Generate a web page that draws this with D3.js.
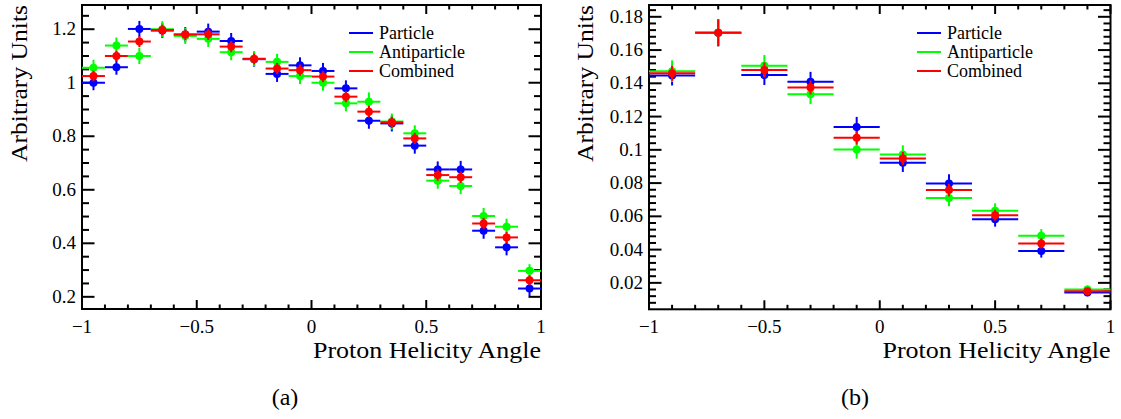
<!DOCTYPE html>
<html>
<head>
<meta charset="utf-8">
<script src="https://cdn.jsdelivr.net/npm/d3@7"></script>
<style>
  html, body { margin: 0; padding: 0; background: #fff; }
</style>
</head>
<body>
<svg id="chart" width="1121" height="419"></svg>
<script>
// ---- Panel (a): 20 bins of width 0.1 ----
const binsA = d3.range(20).map(i => -0.95 + 0.1 * i);
const particleA     = [1.000, 1.058, 1.201, 1.195, 1.180, 1.191, 1.156, 1.088, 1.033, 1.065, 1.044, 0.979, 0.858, 0.848, 0.765, 0.676, 0.676, 0.447, 0.385, 0.231];
const antiparticleA = [1.056, 1.139, 1.100, 1.200, 1.175, 1.164, 1.114, 1.090, 1.078, 1.025, 1.000, 0.923, 0.929, 0.855, 0.811, 0.634, 0.614, 0.502, 0.462, 0.297];
const combinedA     = [1.025, 1.100, 1.154, 1.197, 1.180, 1.181, 1.135, 1.089, 1.053, 1.047, 1.023, 0.948, 0.892, 0.852, 0.792, 0.655, 0.647, 0.474, 0.422, 0.262];
const particleErrA     = [0.028, 0.028, 0.030, 0.028, 0.028, 0.030, 0.030, 0.028, 0.030, 0.030, 0.030, 0.030, 0.030, 0.030, 0.030, 0.030, 0.032, 0.030, 0.030, 0.028];
const antiparticleErrA = [0.030, 0.030, 0.030, 0.030, 0.030, 0.030, 0.030, 0.028, 0.030, 0.030, 0.030, 0.030, 0.035, 0.030, 0.030, 0.030, 0.030, 0.030, 0.030, 0.025];
const combinedErrA     = [0.020, 0.020, 0.021, 0.020, 0.020, 0.021, 0.021, 0.020, 0.021, 0.021, 0.021, 0.021, 0.022, 0.021, 0.021, 0.021, 0.022, 0.021, 0.021, 0.019];

// ---- Panel (b): 10 bins of width 0.2 ----
const binsB = d3.range(10).map(i => -0.9 + 0.2 * i);
const particleB     = [0.1447, 0.1704, 0.1450, 0.1409, 0.1138, 0.0922, 0.0798, 0.0583, 0.0392, 0.0142];
const antiparticleB = [0.1473, 0.1704, 0.1505, 0.1335, 0.1002, 0.0972, 0.0711, 0.0633, 0.0483, 0.0160];
const combinedB     = [0.1460, 0.1704, 0.1480, 0.1375, 0.1072, 0.0948, 0.0758, 0.0607, 0.0437, 0.0150];
const particleErrB     = [0.0060, 0.0081, 0.0060, 0.0060, 0.0060, 0.0055, 0.0055, 0.0045, 0.0040, 0.0022];
const antiparticleErrB = [0.0065, 0.0081, 0.0065, 0.0060, 0.0055, 0.0055, 0.0050, 0.0045, 0.0040, 0.0025];
const combinedErrB     = [0.0045, 0.0081, 0.0045, 0.0042, 0.0040, 0.0040, 0.0038, 0.0033, 0.0030, 0.0017];

const seriesNames  = ["Particle", "Antiparticle", "Combined"];
const seriesColors = ["#0000ff", "#00ff00", "#ff0000"];

const xTickLabels = ["\u22121", "\u22120.5", "0", "0.5", "1"];
const yTicksA = [0.2, 0.4, 0.6, 0.8, 1.0, 1.2];
const yTickLabelsA = ["0.2", "0.4", "0.6", "0.8", "1", "1.2"];
const yTicksB = [0.02, 0.04, 0.06, 0.08, 0.10, 0.12, 0.14, 0.16, 0.18];
const yTickLabelsB = ["0.02", "0.04", "0.06", "0.08", "0.1", "0.12", "0.14", "0.16", "0.18"];

const xTitle = "Proton Helicity Angle";
const yTitle = "Arbitrary Units";

const svg = d3.select("#chart");

function drawPanel(cfg) {
  const x = d3.scaleLinear().domain([-1, 1]).range([cfg.left, cfg.right]);
  const y = d3.scaleLinear().domain(cfg.yDomain).range([cfg.bottom, cfg.top]);
  const g = svg.append("g");

  // ticks (inside the frame, on all four sides)
  const xMajor = [-1, -0.5, 0, 0.5, 1];
  const xMinor = d3.range(-10, 11).map(i => i / 10).filter(v => !xMajor.some(m => Math.abs(m - v) < 1e-9));
  const yMinor = d3.range(Math.ceil(cfg.yDomain[0] / cfg.yMinorStep - 1e-9), Math.floor(cfg.yDomain[1] / cfg.yMinorStep + 1e-9) + 1)
    .map(i => i * cfg.yMinorStep)
    .filter(v => !cfg.yTicks.some(m => Math.abs(m - v) < 1e-9));

  const tk = g.append("g").attr("stroke", "#000").attr("stroke-width", 2);
  const xMajLen = 9, xMinLen = 4.5, yMajLen = 12.5, yMinLen = 7;
  xMajor.forEach(v => {
    tk.append("line").attr("x1", x(v)).attr("x2", x(v)).attr("y1", cfg.bottom).attr("y2", cfg.bottom - xMajLen);
    tk.append("line").attr("x1", x(v)).attr("x2", x(v)).attr("y1", cfg.top).attr("y2", cfg.top + xMajLen);
  });
  xMinor.forEach(v => {
    tk.append("line").attr("x1", x(v)).attr("x2", x(v)).attr("y1", cfg.bottom).attr("y2", cfg.bottom - xMinLen);
    tk.append("line").attr("x1", x(v)).attr("x2", x(v)).attr("y1", cfg.top).attr("y2", cfg.top + xMinLen);
  });
  cfg.yTicks.forEach(v => {
    tk.append("line").attr("y1", y(v)).attr("y2", y(v)).attr("x1", cfg.left).attr("x2", cfg.left + yMajLen);
    tk.append("line").attr("y1", y(v)).attr("y2", y(v)).attr("x1", cfg.right).attr("x2", cfg.right - yMajLen);
  });
  yMinor.forEach(v => {
    tk.append("line").attr("y1", y(v)).attr("y2", y(v)).attr("x1", cfg.left).attr("x2", cfg.left + yMinLen);
    tk.append("line").attr("y1", y(v)).attr("y2", y(v)).attr("x1", cfg.right).attr("x2", cfg.right - yMinLen);
  });

  // frame
  g.append("rect")
    .attr("x", cfg.left).attr("y", cfg.top)
    .attr("width", cfg.right - cfg.left).attr("height", cfg.bottom - cfg.top)
    .attr("fill", "none").attr("stroke", "#000").attr("stroke-width", 2);

  // tick labels
  xMajor.forEach((v, i) => {
    g.append("text").attr("x", x(v)).attr("y", cfg.bottom + 24)
      .attr("text-anchor", "middle").attr("font-size", 19).text(xTickLabels[i]);
  });
  cfg.yTicks.forEach((v, i) => {
    g.append("text").attr("x", cfg.left - 6).attr("y", y(v) + 6)
      .attr("text-anchor", "end").attr("font-size", 19).text(cfg.yTickLabels[i]);
  });

  // axis titles (slightly wide serif face)
  g.append("text").attr("x", cfg.right).attr("y", 358)
    .attr("text-anchor", "end").attr("font-size", 24)
    .attr("textLength", 228).attr("lengthAdjust", "spacingAndGlyphs").text(xTitle);
  g.append("text")
    .attr("transform", `translate(${cfg.yTitleX},${cfg.top}) rotate(-90)`)
    .attr("text-anchor", "end").attr("font-size", 24)
    .attr("textLength", 157).attr("lengthAdjust", "spacingAndGlyphs").text(yTitle);

  // data series: horizontal bin-width bars, vertical error bars, markers
  const half = cfg.binWidth / 2;
  cfg.series.forEach((s, si) => {
    const sg = g.append("g").attr("stroke", seriesColors[si]).attr("fill", seriesColors[si]);
    cfg.bins.forEach((c, i) => {
      const v = s.values[i], e = s.errors[i];
      sg.append("line").attr("x1", x(c - half)).attr("x2", x(c + half))
        .attr("y1", y(v)).attr("y2", y(v)).attr("stroke-width", 2);
      sg.append("line").attr("x1", x(c)).attr("x2", x(c))
        .attr("y1", y(v - e)).attr("y2", y(v + e)).attr("stroke-width", 2);
      sg.append("circle").attr("cx", x(c)).attr("cy", y(v)).attr("r", 4).attr("stroke", "none");
    });
  });

  // legend
  const lg = g.append("g");
  seriesNames.forEach((name, i) => {
    const ly = 33 + 19 * i;
    lg.append("line").attr("x1", cfg.legendX).attr("x2", cfg.legendX + 24)
      .attr("y1", ly).attr("y2", ly).attr("stroke", seriesColors[i]).attr("stroke-width", 2);
    lg.append("text").attr("x", cfg.legendX + 30).attr("y", ly + 6)
      .attr("font-size", 18).text(name);
  });

  // sub-caption
  svg.append("text").attr("x", cfg.captionX).attr("y", 405)
    .attr("text-anchor", "middle").attr("font-size", 24).text(cfg.caption);
}

drawPanel({
  left: 82, right: 541, top: 5, bottom: 309,
  yDomain: [0.1545, 1.2905], yTicks: yTicksA, yTickLabels: yTickLabelsA, yMinorStep: 0.05,
  bins: binsA, binWidth: 0.1,
  series: [
    { values: particleA, errors: particleErrA },
    { values: antiparticleA, errors: antiparticleErrA },
    { values: combinedA, errors: combinedErrA }
  ],
  legendX: 349, yTitleX: 27, captionX: 285, caption: "(a)"
});

drawPanel({
  left: 649, right: 1110.5, top: 5, bottom: 309.3,
  yDomain: [0.0041, 0.1871], yTicks: yTicksB, yTickLabels: yTickLabelsB, yMinorStep: 0.004,
  bins: binsB, binWidth: 0.2,
  series: [
    { values: particleB, errors: particleErrB },
    { values: antiparticleB, errors: antiparticleErrB },
    { values: combinedB, errors: combinedErrB }
  ],
  legendX: 917, yTitleX: 593, captionX: 855, caption: "(b)"
});

// serif face for every label
svg.selectAll("text").style("font-family", '"Liberation Serif"');
</script>
</body>
</html>
